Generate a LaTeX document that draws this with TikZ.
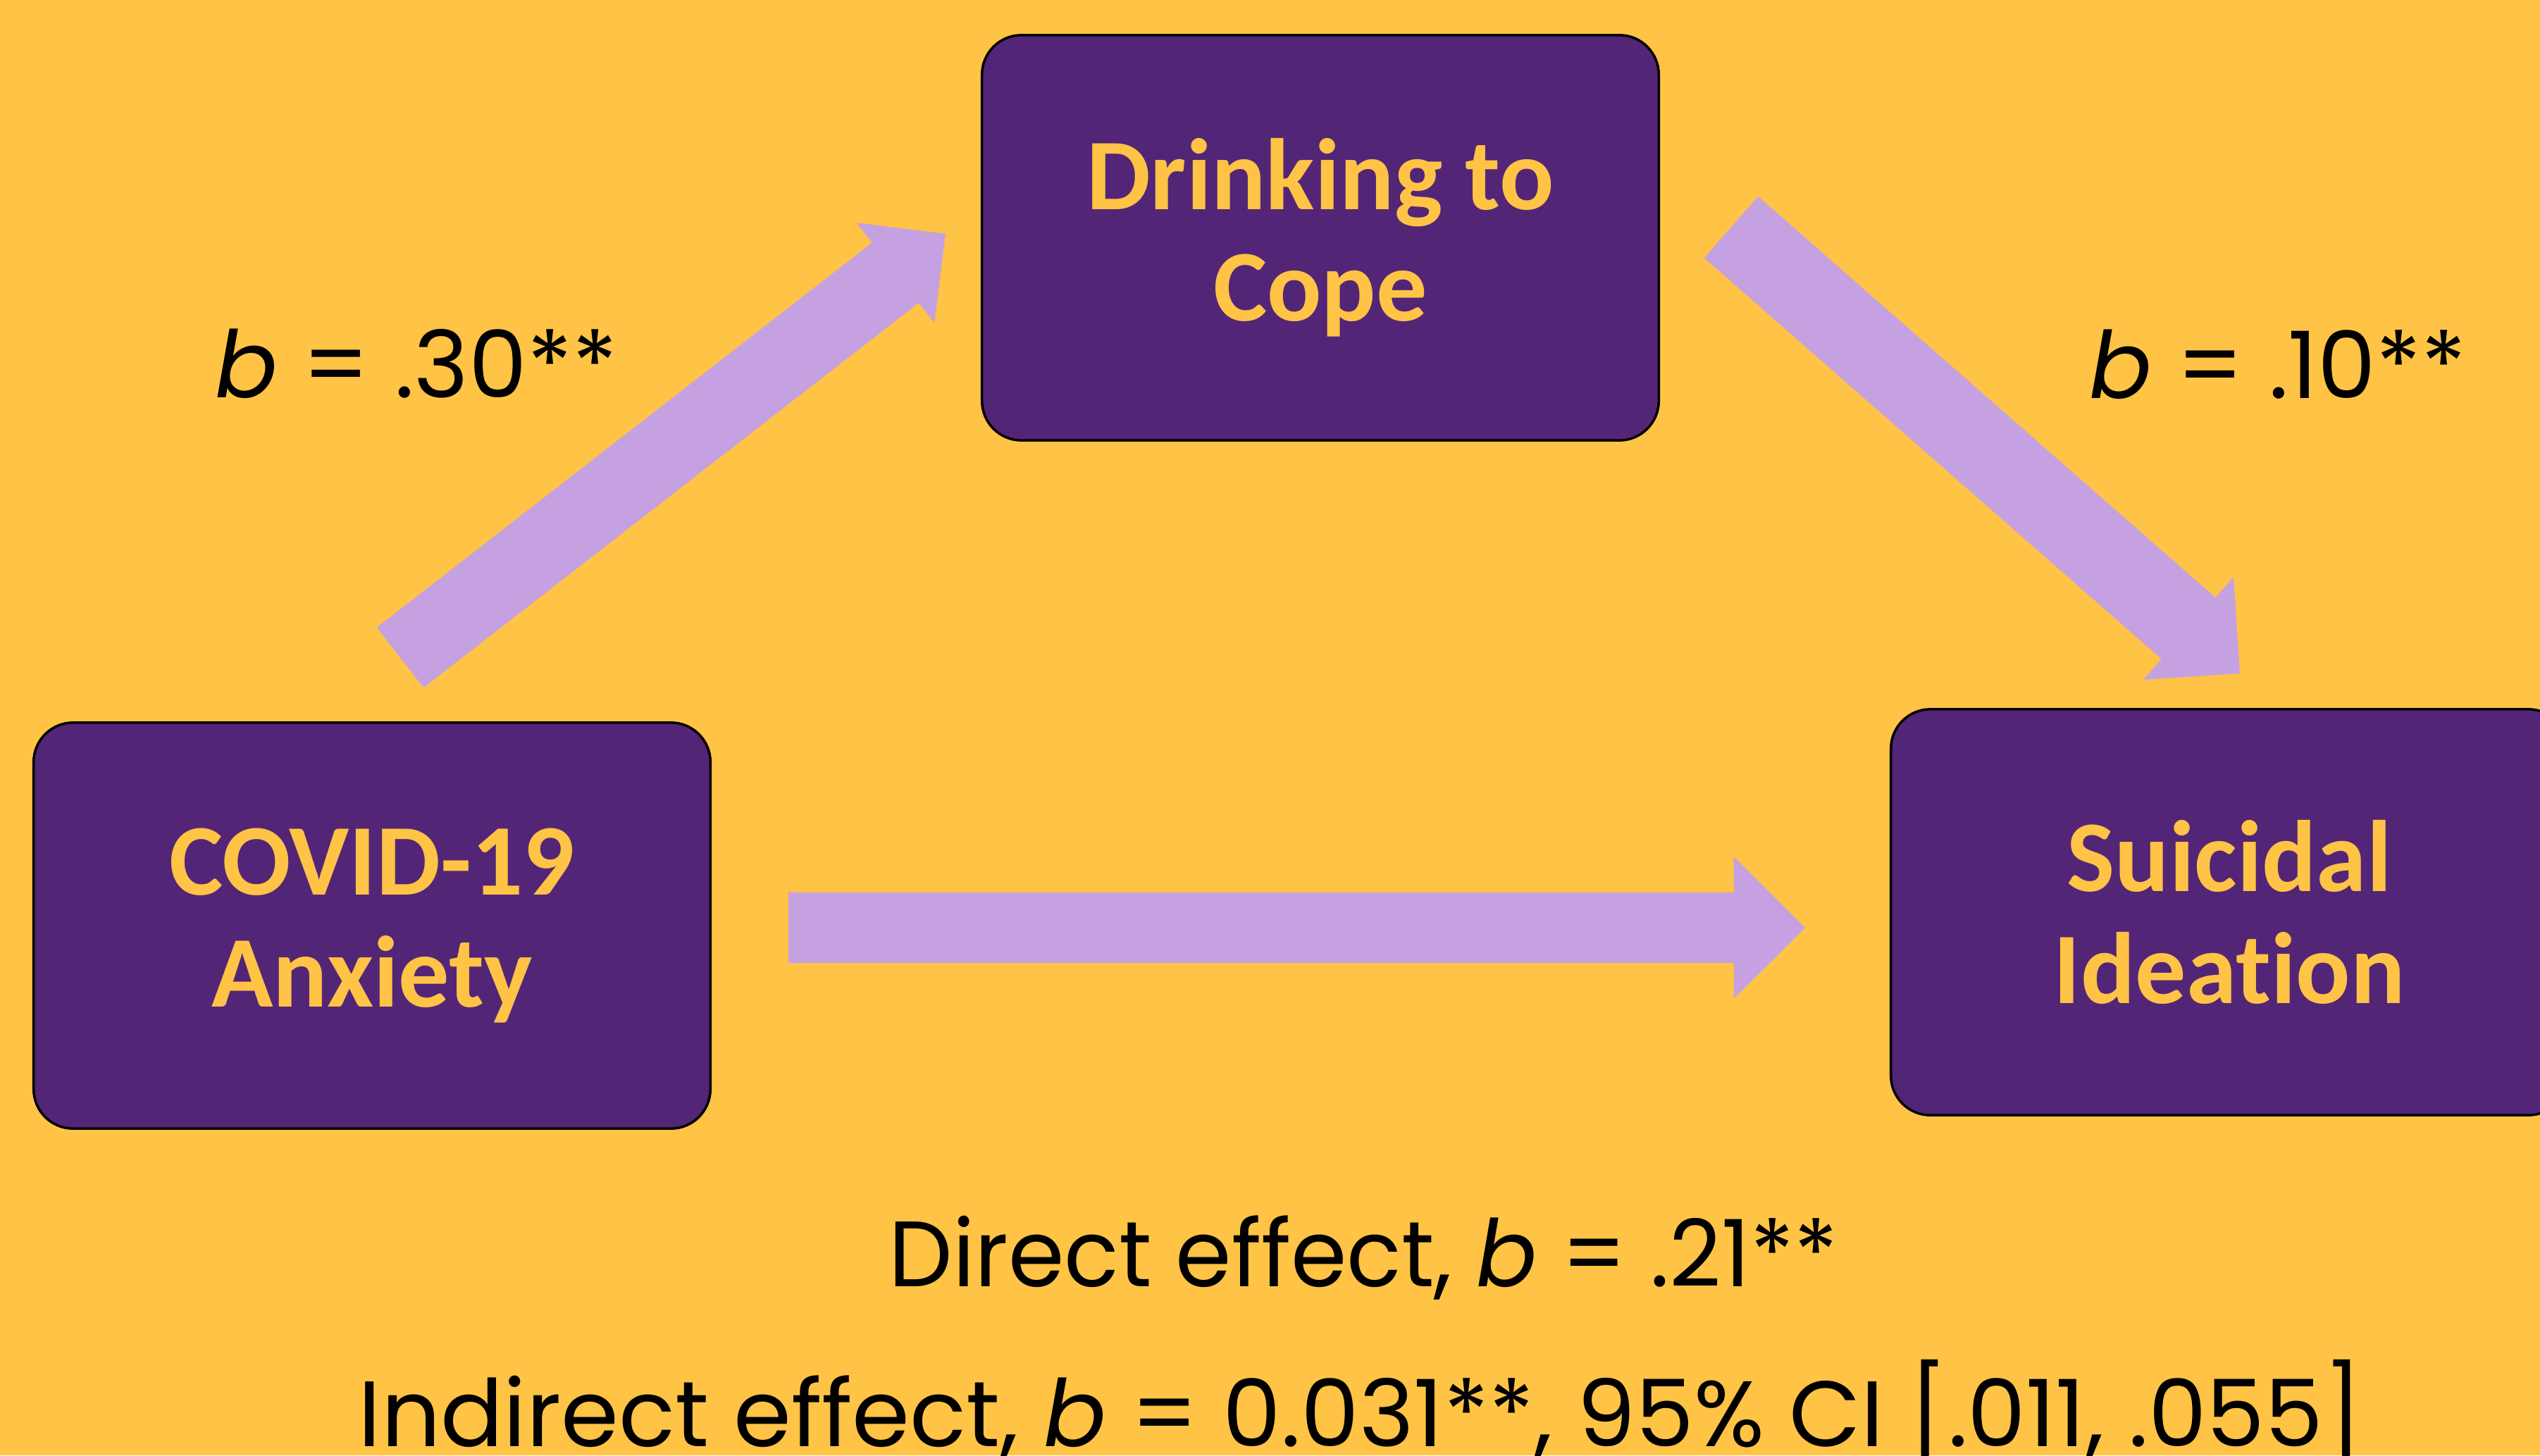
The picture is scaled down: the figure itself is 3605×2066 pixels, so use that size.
\documentclass[tikz,border=0pt]{standalone}
\usepackage{fontspec}
\usepackage{graphicx}
\usetikzlibrary{calc}
\newfontfamily\boxfont{Carlito}[Ligatures=NoCommon]
\newfontfamily\labfont{Poppins}
\definecolor{bg}{HTML}{FFC346}
\definecolor{boxpurple}{HTML}{532577}
\definecolor{arrowlilac}{HTML}{C6A1E1}
\definecolor{boxtext}{HTML}{FFC346}
\tikzset{
  varbox/.style={draw=black, line width=1pt, fill=boxpurple, rounded corners=0.56cm,
    minimum width=9.6cm, minimum height=5.76cm, inner sep=0pt, align=center,
    text=boxtext, font=\boxfont\bfseries\fontsize{41}{45}\selectfont},
  lab/.style={anchor=base, inner sep=0pt, text=black, font=\labfont\fontsize{37.5}{40}\selectfont},
  arrowfill/.style={fill=arrowlilac}
}
\newcommand\blockarrow[6]{%
  \coordinate (#1h) at ($(#3)!#6!(#2)$);
  \fill[arrowfill] ($(#2)!#4!90:(#3)$) -- ($(#1h)!#4!90:(#3)$) -- ($(#1h)!#5!90:(#3)$) -- (#3)
    -- ($(#1h)!#5!-90:(#3)$) -- ($(#1h)!#4!-90:(#3)$) -- ($(#2)!#4!-90:(#3)$) -- cycle;
}
\begin{document}
\begin{tikzpicture}[x=0.01cm,y=-0.01cm]
\useasboundingbox (0,0) rectangle (3605,2066);
\fill[bg] (0,0) rectangle (3605,2066);
% boxes
\node[varbox] (covid) at (528,1314) {COVID-19\\Anxiety};
\node[varbox, minimum height=5.75cm] (drink) at (1874,337.5) {Drinking to\\Cope};
\node[varbox] (si) at (3164,1295) {Suicidal\\Ideation};
% arrow end points
\coordinate (a1t) at (568,933.5);
\coordinate (a1p) at (1342,332);
\coordinate (a2t) at (2457,322.5);
\coordinate (a2p) at (3179,956);
\coordinate (a3t) at (1119,1317);
\coordinate (a3p) at (2562,1317);
\blockarrow{a1}{a1t}{a1p}{0.54cm}{0.90cm}{0.90cm}
\blockarrow{a2}{a2t}{a2p}{0.58cm}{0.97cm}{0.97cm}
\blockarrow{a3}{a3t}{a3p}{0.50cm}{1.005cm}{1.01cm}
% labels
\node[lab] (l1) at (591,564) {{\itshape b} = .30**};
\node[lab] (l2) at (3233,565) {{\itshape b} = .10**};
\node[lab] (l3) at (1935,1826) {\scalebox{0.97}[1]{Direct effect, {\itshape b} = .21**}};
\node[lab] (l4) at (1931,2053) {Indirect effect, {\itshape b} = 0.031**, 95\% CI [.011, .055]};
\end{tikzpicture}
\end{document}
